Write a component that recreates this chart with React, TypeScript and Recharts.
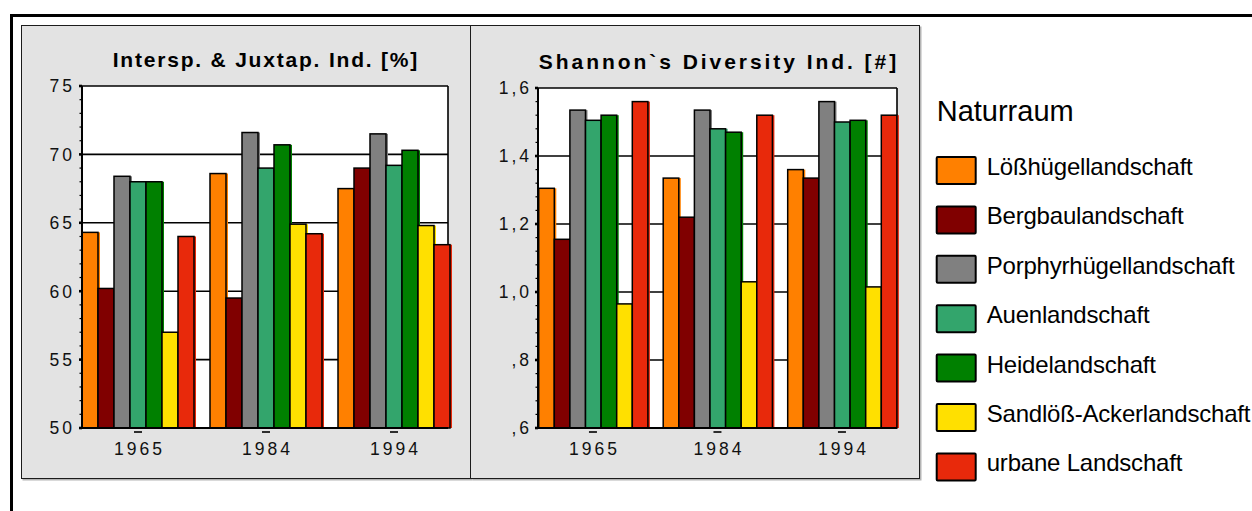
import React from 'react';
import { BarChart, Bar, XAxis, YAxis, CartesianGrid, Legend } from 'recharts';

const FONT = '"Liberation Sans", Arial, Helvetica, sans-serif';

// ---------- categories & series ----------
const years = ['1965', '1984', '1994'];

const seriesKeys = ['loess', 'bergbau', 'porphyr', 'auen', 'heide', 'sandloess', 'urban'];
const seriesNames = [
  'Lößhügellandschaft',
  'Bergbaulandschaft',
  'Porphyrhügellandschaft',
  'Auenlandschaft',
  'Heidelandschaft',
  'Sandlöß-Ackerlandschaft',
  'urbane Landschaft',
];
const seriesColors = ['#ff8000', '#800000', '#808080', '#33a56c', '#008000', '#ffe000', '#e8290b'];

// ---------- Interspersion & Juxtaposition Index [%] ----------
const ijiLoess = [64.3, 68.6, 67.5];
const ijiBergbau = [60.2, 59.5, 69.0];
const ijiPorphyr = [68.4, 71.6, 71.5];
const ijiAuen = [68.0, 69.0, 69.2];
const ijiHeide = [68.0, 70.7, 70.3];
const ijiSandloess = [57.0, 64.9, 64.8];
const ijiUrban = [64.0, 64.2, 63.4];

// ---------- Shannon's Diversity Index [#] ----------
const shdiLoess = [1.305, 1.335, 1.36];
const shdiBergbau = [1.155, 1.22, 1.335];
const shdiPorphyr = [1.535, 1.535, 1.56];
const shdiAuen = [1.505, 1.48, 1.5];
const shdiHeide = [1.52, 1.47, 1.505];
const shdiSandloess = [0.965, 1.03, 1.015];
const shdiUrban = [1.56, 1.52, 1.52];

// ---------- axis ticks ----------
const ijiMajorTicks = [50, 55, 60, 65, 70, 75];
const ijiTickLabels = ['50', '55', '60', '65', '70', '75'];
const shdiMajorTicks = [0.6, 0.8, 1.0, 1.2, 1.4, 1.6];
const shdiTickLabels = [',6', ',8', '1,0', '1,2', '1,4', '1,6'];
const minorDivisions = 5;

const subdivide = (majors: number[], n: number) => {
  const out: number[] = [];
  for (let i = 0; i < majors.length - 1; i++) {
    for (let j = 0; j < n; j++) {
      out.push(Math.round((majors[i] + ((majors[i + 1] - majors[i]) * j) / n) * 1e6) / 1e6);
    }
  }
  out.push(majors[majors.length - 1]);
  return out;
};

const buildRows = (series: number[][]) =>
  years.map((year, i) => {
    const row: any = { year };
    seriesKeys.forEach((k, s) => {
      row[k] = series[s][i];
    });
    return row;
  });

const ijiData = buildRows([ijiLoess, ijiBergbau, ijiPorphyr, ijiAuen, ijiHeide, ijiSandloess, ijiUrban]);
const shdiData = buildRows([shdiLoess, shdiBergbau, shdiPorphyr, shdiAuen, shdiHeide, shdiSandloess, shdiUrban]);

// ---------- custom renderers ----------
const renderBar = (props: any) => {
  const { x, y, width, height, fill } = props;
  if (height == null || !(height > 0)) return <g />;
  return (
    <g>
      <rect x={x} y={y} width={width + 2} height={height} fill={fill} />
      <rect x={x} y={y} width={width} height={height} fill="none" stroke="#000" strokeWidth={1.5} />
    </g>
  );
};

const makeYTick = (majors: number[], labels: string[], gap: number) => (props: any) => {
  const { x, y, payload } = props;
  const idx = majors.findIndex((m) => Math.abs(m - payload.value) < 1e-6);
  const major = idx >= 0;
  return (
    <g>
      <line
        x1={x - (major ? 3 : 2.5)}
        x2={x}
        y1={y}
        y2={y}
        stroke="#000"
        strokeWidth={major ? 2.6 : 1.2}
      />
      {major && (
        <text
          x={x - gap}
          y={y}
          dy="0.36em"
          textAnchor="end"
          fontSize={17.5}
          letterSpacing={3}
          fontFamily={FONT}
          fill="#111"
        >
          {labels[idx]}
        </text>
      )}
    </g>
  );
};

const renderXTick = (props: any) => {
  const { x, y, payload } = props;
  return (
    <g>
      <rect x={x - 4} y={y + 3.2} width={8} height={1.6} fill="#000" />
      <text
        x={x + 1.5}
        y={y + 26.5}
        textAnchor="middle"
        fontSize={17.5}
        letterSpacing={3}
        fontFamily={FONT}
        fill="#111"
      >
        {payload.value}
      </text>
    </g>
  );
};

const frameGenerator = ({ offset }: any) => [offset.left, offset.left + offset.width];

type PanelProps = {
  data: any[];
  majors: number[];
  labels: string[];
  left: number;
  top: number;
  width: number;
  height: number;
  marginTop: number;
  yAxisWidth: number;
  padLeft: number;
  padRight: number;
  barSize: number;
  title: string;
  titleBaseline: number;
  titleLs: number;
  labelGap: number;
};

const Panel = (p: PanelProps) => {
  const marginRight = 22;
  const allTicks = subdivide(p.majors, minorDivisions);
  const plotCenter = p.yAxisWidth + (p.width - p.yAxisWidth - marginRight) / 2;
  return (
    <div style={{ position: 'absolute', left: p.left, top: p.top, width: p.width, height: p.height }}>
      <BarChart
        width={p.width}
        height={p.height}
        data={p.data}
        margin={{ top: p.marginTop, right: marginRight, bottom: 0, left: 0 }}
        barGap={0}
      >
        <CartesianGrid
          fill="#fff"
          fillOpacity={1}
          stroke="#000"
          strokeWidth={1.6}
          horizontalValues={p.majors}
          verticalCoordinatesGenerator={frameGenerator}
        />
        {seriesKeys.map((k, s) => (
          <Bar
            key={k}
            dataKey={k}
            name={seriesNames[s]}
            fill={seriesColors[s]}
            barSize={p.barSize}
            shape={renderBar}
            isAnimationActive={false}
          />
        ))}
        <XAxis
          dataKey="year"
          type="category"
          height={50}
          padding={{ left: p.padLeft, right: p.padRight }}
          tickSize={0}
          tickMargin={0}
          tickLine={false}
          axisLine={{ stroke: '#000', strokeWidth: 2 }}
          tick={renderXTick}
          interval={0}
        />
        <YAxis
          type="number"
          domain={[p.majors[0], p.majors[p.majors.length - 1]]}
          ticks={allTicks}
          interval={0}
          width={p.yAxisWidth}
          tickSize={0}
          tickMargin={0}
          tickLine={false}
          axisLine={{ stroke: '#000', strokeWidth: 2 }}
          tick={makeYTick(p.majors, p.labels, p.labelGap)}
        />
      </BarChart>
      <svg
        width={p.width}
        height={p.height}
        style={{ position: 'absolute', left: 0, top: 0, pointerEvents: 'none' }}
      >
        <text
          x={plotCenter + p.titleLs / 2}
          y={p.titleBaseline}
          textAnchor="middle"
          fontSize={21}
          fontWeight="bold"
          letterSpacing={p.titleLs}
          fontFamily={FONT}
          fill="#000"
        >
          {p.title}
        </text>
      </svg>
    </div>
  );
};

const renderLegend = (props: any) => {
  const payload: any[] = props.payload || [];
  const items = seriesKeys.map((k, s) => {
    const entry = payload.find((e) => e.dataKey === k);
    return {
      name: entry && entry.value ? entry.value : seriesNames[s],
      color: entry && entry.color ? entry.color : seriesColors[s],
    };
  });
  return (
    <svg width={332} height={431} style={{ display: 'block', overflow: 'visible' }}>
      <text x={16.7} y={41} fontSize={29} fontFamily={FONT} fill="#000">
        Naturraum
      </text>
      {items.map((it, i) => {
        const top = 76 + i * 49.4;
        return (
          <g key={it.name}>
            <rect x={16.7} y={top + 1} width={39} height={27} fill={it.color} stroke="#000" strokeWidth={2} rx={1} />
            <text x={66.7} y={top + 19} fontSize={24} letterSpacing={-0.2} fontFamily={FONT} fill="#000">
              {it.name}
            </text>
          </g>
        );
      })}
    </svg>
  );
};

export default function App() {
  return (
    <div
      style={{
        position: 'absolute',
        left: 0,
        top: 0,
        width: 1252,
        height: 511,
        background: '#fff',
        overflow: 'hidden',
        fontFamily: FONT,
      }}
    >
      {/* outer frame */}
      <div
        style={{
          position: 'absolute',
          left: 10,
          top: 14,
          width: 1242,
          height: 497,
          borderTop: '3px solid #000',
          borderLeft: '3px solid #000',
          boxSizing: 'border-box',
        }}
      />
      {/* panel boxes */}
      <div
        style={{
          position: 'absolute',
          left: 21,
          top: 25,
          width: 450,
          height: 454,
          background: '#e3e3e3',
          border: '1.5px solid #1c1c1c',
          boxSizing: 'border-box',
          boxShadow: '1.5px 1.5px 0 #b4b4b4',
        }}
      />
      <div
        style={{
          position: 'absolute',
          left: 471,
          top: 25,
          width: 449,
          height: 454,
          background: '#e3e3e3',
          borderTop: '1.5px solid #1c1c1c',
          borderRight: '1.5px solid #1c1c1c',
          borderBottom: '1.5px solid #1c1c1c',
          boxSizing: 'border-box',
          boxShadow: '1.5px 1.5px 0 #b4b4b4',
        }}
      />
      <Panel
        data={ijiData}
        majors={ijiMajorTicks}
        labels={ijiTickLabels}
        left={22}
        top={26}
        width={448}
        height={452}
        marginTop={60}
        yAxisWidth={60}
        padLeft={-8}
        padRight={-10}
        barSize={16}
        title="Intersp. & Juxtap. Ind. [%]"
        titleBaseline={40.7}
        titleLs={1.8}
        labelGap={7}
      />
      <Panel
        data={shdiData}
        majors={shdiMajorTicks}
        labels={shdiTickLabels}
        left={470}
        top={26}
        width={449}
        height={452}
        marginTop={62}
        yAxisWidth={68}
        padLeft={-7.3}
        padRight={-7.2}
        barSize={15.6}
        title="Shannon`s Diversity Ind. [#]"
        titleBaseline={42.5}
        titleLs={2.95}
        labelGap={6}
      />
      {/* legend */}
      <div style={{ position: 'absolute', left: 920, top: 80, width: 332, height: 431 }}>
        <BarChart width={332} height={431} data={[]} margin={{ top: 0, right: 0, bottom: 0, left: 0 }}>
          <XAxis dataKey="year" hide />
          <YAxis hide />
          {seriesKeys.map((k, s) => (
            <Bar key={k} dataKey={k} name={seriesNames[s]} fill={seriesColors[s]} isAnimationActive={false} />
          ))}
          <Legend
            verticalAlign="top"
            align="left"
            layout="vertical"
            content={renderLegend}
            wrapperStyle={{ left: 0, top: 0, width: 332, height: 431 }}
          />
        </BarChart>
      </div>
    </div>
  );
}
